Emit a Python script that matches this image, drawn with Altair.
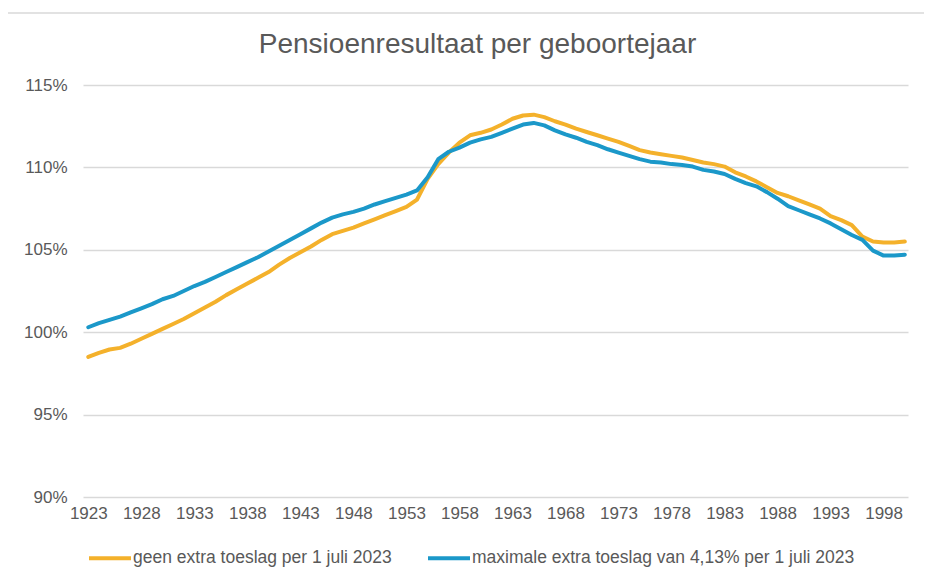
import altair as alt
import pandas as pd

years = list(range(1923, 2001))

geen = [98.5, 98.75, 98.95, 99.05, 99.3, 99.6, 99.9, 100.2, 100.5, 100.8,
        101.15, 101.5, 101.85, 102.25, 102.6, 102.95, 103.3, 103.65, 104.1, 104.5,
        104.85, 105.2, 105.6, 105.95, 106.15, 106.35, 106.6, 106.85, 107.1, 107.35,
        107.6, 108.05, 109.3, 110.2, 110.9, 111.5, 111.95, 112.1, 112.3, 112.6,
        112.95, 113.15, 113.2, 113.05, 112.8, 112.6, 112.35, 112.15, 111.95, 111.75,
        111.55, 111.3, 111.05, 110.9, 110.8, 110.7, 110.6, 110.45, 110.3, 110.2,
        110.05, 109.7, 109.45, 109.15, 108.8, 108.45, 108.25, 108.0, 107.75, 107.5,
        107.05, 106.8, 106.5, 105.8, 105.5, 105.45, 105.45, 105.5]

maximaal = [100.3, 100.55, 100.75, 100.95, 101.2, 101.45, 101.7, 102.0, 102.2, 102.5,
            102.8, 103.05, 103.35, 103.65, 103.95, 104.25, 104.55, 104.9, 105.25, 105.6,
            105.95, 106.3, 106.65, 106.95, 107.15, 107.3, 107.5, 107.75, 107.95, 108.15,
            108.35, 108.6, 109.4, 110.5, 110.95, 111.2, 111.5, 111.7, 111.85, 112.1,
            112.35, 112.6, 112.7, 112.55, 112.25, 112.0, 111.8, 111.55, 111.35, 111.1,
            110.9, 110.7, 110.5, 110.35, 110.3, 110.2, 110.15, 110.05, 109.85, 109.75,
            109.6, 109.3, 109.05, 108.85, 108.5, 108.1, 107.65, 107.4, 107.15, 106.9,
            106.6, 106.25, 105.9, 105.6, 104.95, 104.65, 104.65, 104.7]

series_names = ["geen extra toeslag per 1 juli 2023",
                "maximale extra toeslag van 4,13% per 1 juli 2023"]
series_colors = ["#F4B12B", "#1B98C9"]

x_ticks = list(range(1923, 1999, 5))
y_ticks = [90, 95, 100, 105, 110, 115]

rows = []
for name, vals in zip(series_names, [geen, maximaal]):
    for y, v in zip(years, vals):
        rows.append({"jaar": y, "waarde": v, "reeks": name})
df = pd.DataFrame(rows)

FONT = "Liberation Sans"
GREY = "#595959"

lines = alt.Chart(df).mark_line(strokeWidth=4, strokeCap="round", strokeJoin="round").encode(
    x=alt.X("jaar:Q",
            scale=alt.Scale(domain=[1922.5, 2000.3], nice=False, zero=False),
            axis=alt.Axis(values=x_ticks, format="d", title=None, grid=False,
                          ticks=False, domain=False, labelFontSize=17,
                          labelColor=GREY, labelFont=FONT, labelPadding=8,
                          labelFlush=False)),
    y=alt.Y("waarde:Q",
            scale=alt.Scale(domain=[90, 115], nice=False, zero=False),
            axis=alt.Axis(values=y_ticks, labelExpr="datum.value + '%'", title=None,
                          grid=True, gridColor="#D9D9D9", gridWidth=1.5,
                          ticks=False, domain=False, labelFontSize=17,
                          labelColor=GREY, labelFont=FONT, labelPadding=16)),
    color=alt.Color("reeks:N",
                    scale=alt.Scale(domain=series_names, range=series_colors),
                    legend=alt.Legend(title=None, orient="none", legendX=4, legendY=450,
                                      direction="horizontal", symbolType="stroke",
                                      symbolSize=1764, symbolStrokeWidth=4,
                                      labelFontSize=17.5, labelColor=GREY,
                                      labelFont=FONT, labelOffset=0,
                                      columnPadding=28, labelLimit=600)),
)

border = alt.Chart(pd.DataFrame({"k": [0]})).mark_rect(
    fill=None, stroke="#D9D9D9", strokeWidth=1.5
).encode(x=alt.value(-76), x2=alt.value(843), y=alt.value(-72), y2=alt.value(520))

chart = alt.layer(border, lines).properties(
    width=825,
    height=412,
    background="white",
    title=alt.Title("Pensioenresultaat per geboortejaar", fontSize=28, font=FONT,
                    fontWeight="normal", color=GREY, offset=-47, dx=-18),
    autosize=alt.AutoSizeParams(type="none"),
    padding={"left": 75, "top": 77, "right": 16, "bottom": 74},
).configure_view(stroke=None)

chart.save("out.html", embed_options={"renderer": "svg", "actions": False})
